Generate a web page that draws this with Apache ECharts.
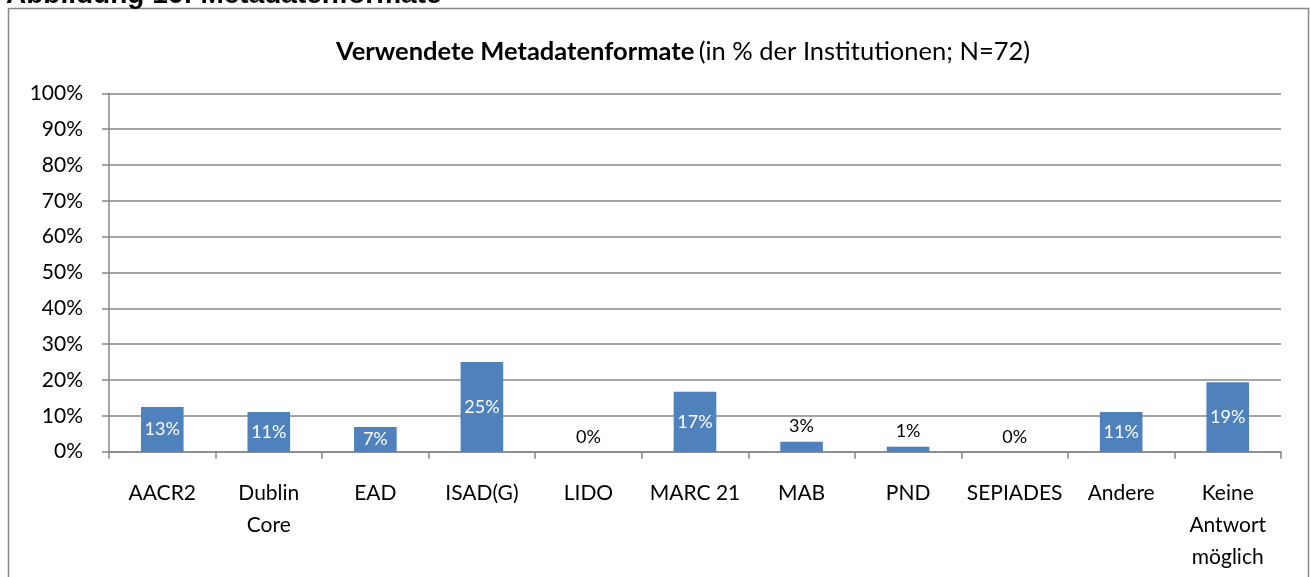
<!DOCTYPE html>
<html>
<head>
<meta charset="utf-8">
<title>Verwendete Metadatenformate</title>
<script src="https://cdn.jsdelivr.net/npm/echarts@6/dist/echarts.min.js"></script>
<style>
  html, body { margin: 0; padding: 0; background: #fff; }
  #chart { width: 1310px; height: 577px; }
</style>
</head>
<body>
<div id="chart"></div>
<script>
// Daten
const categories = ['AACR2', 'Dublin\nCore', 'EAD', 'ISAD(G)', 'LIDO', 'MARC 21', 'MAB', 'PND', 'SEPIADES', 'Andere', 'Keine\nAntwort\nmöglich'];
const values = [12.5, 11.1, 6.9, 25.0, 0, 16.7, 2.8, 1.4, 0, 11.1, 19.4];
const yTicks = [0, 10, 20, 30, 40, 50, 60, 70, 80, 90, 100];

const FONT = 'Lato';
const GREY = '#878787';

const chart = echarts.init(document.getElementById('chart'));

// kleine Werte: Beschriftung oberhalb, sonst weiss im Balken
const barData = values.map(v => {
  if (v < 5) {
    return {
      value: v,
      label: { position: 'top', color: '#000', distance: 6 }
    };
  }
  return { value: v };
});

const option = {
  animation: false,
  textStyle: { fontFamily: FONT },
  graphic: [
    {
      type: 'rect',
      shape: { x: 8.5, y: 8.5, width: 1300, height: 620 },
      style: { fill: 'none', stroke: GREY, lineWidth: 1.5 },
      silent: true
    },
    {
      type: 'text',
      left: 6,
      top: -19,
      style: {
        text: 'Abbildung 16: Metadatenformate',
        font: 'bold 28px "Liberation Sans", Arial, sans-serif',
        fill: '#000'
      },
      silent: true
    }
  ],
  title: {
    text: '{b|Verwendete Metadatenformate} {n|(in % der Institutionen; N=72)}',
    left: 331,
    top: 34,
    textStyle: {
      rich: {
        b: { fontFamily: FONT, fontWeight: 'bold', fontSize: 25.5, color: '#000' },
        n: { fontFamily: FONT, fontWeight: 'normal', fontSize: 25.5, color: '#000' }
      }
    }
  },
  grid: {
    left: 109,
    right: 29,
    top: 93.3,
    bottom: 125.3,
    containLabel: false
  },
  xAxis: {
    type: 'category',
    data: categories,
    axisLine: { show: true, lineStyle: { color: GREY, width: 1.5 } },
    axisTick: { show: true, length: 7, lineStyle: { color: GREY, width: 1.5 } },
    axisLabel: {
      interval: 0,
      margin: 26,
      fontFamily: FONT,
      fontSize: 21,
      color: '#000',
      lineHeight: 32
    }
  },
  yAxis: {
    type: 'value',
    min: 0,
    max: 100,
    interval: 10,
    axisLine: { show: true, lineStyle: { color: GREY, width: 1.5 } },
    axisTick: { show: true, length: 7, lineStyle: { color: GREY, width: 1.5 } },
    splitLine: { show: true, lineStyle: { color: GREY, width: 1.5 } },
    axisLabel: {
      margin: 26,
      fontFamily: FONT,
      fontSize: 21,
      color: '#000',
      formatter: v => (yTicks.indexOf(v) >= 0 ? v + '%' : '')
    }
  },
  series: [
    {
      type: 'bar',
      data: barData,
      barWidth: '40%',
      itemStyle: { color: '#4F81BD' },
      label: {
        show: true,
        position: 'inside',
        color: '#fff',
        fontFamily: FONT,
        fontSize: 18,
        formatter: p => Math.round(p.value) + '%'
      }
    }
  ]
};

chart.setOption(option);

window.addEventListener('resize', () => {
  chart.resize();
});
</script>
</body>
</html>
